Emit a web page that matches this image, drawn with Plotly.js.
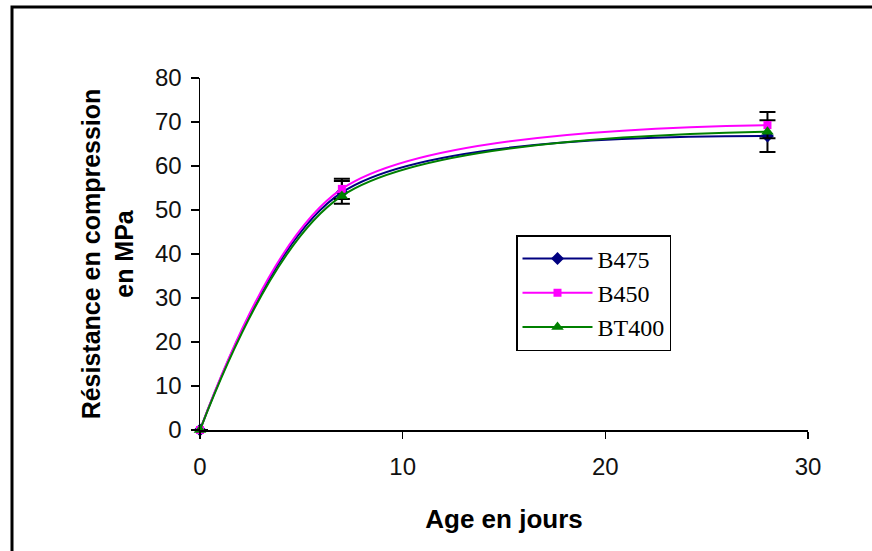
<!DOCTYPE html>
<html>
<head>
<meta charset="utf-8">
<script src="https://cdn.plot.ly/plotly-3.0.1.min.js"></script>
<style>html,body{margin:0;padding:0;background:#fff;}#chart{width:872px;height:551px;}</style>
</head>
<body>
<div id="chart"></div>
<script>
// Data
const ages = [0, 7, 28];
const b475 = [0, 54.0, 66.8];
const b450 = [0, 54.8, 69.3];
const bt400 = [0, 53.2, 67.8];
const b475Err = [0, 2.6, 3.6];
const b450Err = [0, 2.3, 3.0];
const xTicks = [0, 10, 20, 30];
const yTicks = [0, 10, 20, 30, 40, 50, 60, 70, 80];

const common = {type: 'scatter', mode: 'lines+markers', x: ages, cliponaxis: false};
const traces = [
  Object.assign({}, common, {
    name: 'B475', y: b475,
    line: {color: '#000080', width: 2, shape: 'spline', smoothing: 0.9},
    marker: {symbol: 'diamond', size: 10, color: '#000080'},
    error_y: {type: 'data', array: b475Err, visible: true, color: '#000000', thickness: 2, width: 8}
  }),
  Object.assign({}, common, {
    name: 'B450', y: b450,
    line: {color: '#FF00FF', width: 2, shape: 'spline', smoothing: 0.9},
    marker: {symbol: 'square', size: 8, color: '#FF00FF'},
    error_y: {type: 'data', array: b450Err, visible: true, color: '#000000', thickness: 2, width: 8}
  }),
  Object.assign({}, common, {
    name: 'BT400', y: bt400,
    line: {color: '#008000', width: 2, shape: 'spline', smoothing: 0.9},
    marker: {symbol: 'triangle-up', size: 11, color: '#008000'}
  })
];

const px = v => (v - 200) / 608;
const py = v => (430 - v) / 352;

const layout = {
  width: 872, height: 551,
  margin: {l: 200, r: 64, t: 78, b: 121},
  paper_bgcolor: '#ffffff', plot_bgcolor: '#ffffff',
  showlegend: true,
  font: {family: 'Liberation Sans, Arial, sans-serif', color: '#000000'},
  xaxis: {
    range: [0, 30], tickvals: xTicks, ticktext: xTicks.map(String),
    showgrid: false, zeroline: false, showline: true, linecolor: '#000', linewidth: 1.5,
    ticks: 'outside', ticklen: 7, tickwidth: 1.5, tickcolor: '#000',
    tickfont: {size: 24, color: '#111'}, ticklabelstandoff: 8,
    title: {text: 'Age en jours', font: {size: 26, family: 'Liberation Sans, Arial, sans-serif', weight: 'bold'}, standoff: 30},
    automargin: false
  },
  yaxis: {
    range: [0, 80], tickvals: yTicks, ticktext: yTicks.map(String),
    showgrid: false, zeroline: false, showline: true, linecolor: '#000', linewidth: 1.5,
    ticks: 'outside', ticklen: 8, tickwidth: 1.5, tickcolor: '#000',
    tickfont: {size: 24, color: '#111'}, ticklabelstandoff: 4,
    title: {text: 'Résistance en compression<br>en MPa', font: {size: 25, family: 'Liberation Sans, Arial, sans-serif', weight: 'bold'}, standoff: 14},
    automargin: false
  },
  legend: {
    x: px(516), y: py(235), xanchor: 'left', yanchor: 'top',
    bgcolor: '#ffffff', bordercolor: '#000000', borderwidth: 1.5,
    font: {family: 'Liberation Serif, Times New Roman, serif', size: 24, color: '#000'},
    itemwidth: 70, tracegroupgap: 0
  },
  shapes: [{
    type: 'path', xref: 'paper', yref: 'paper',
    path: 'M ' + px(12) + ',' + py(551) + ' L ' + px(12) + ',' + py(7) + ' L ' + px(872) + ',' + py(7),
    line: {color: '#000', width: 3}
  }]
};

Plotly.newPlot('chart', traces, layout, {displayModeBar: false, staticPlot: true});
</script>
</body>
</html>
